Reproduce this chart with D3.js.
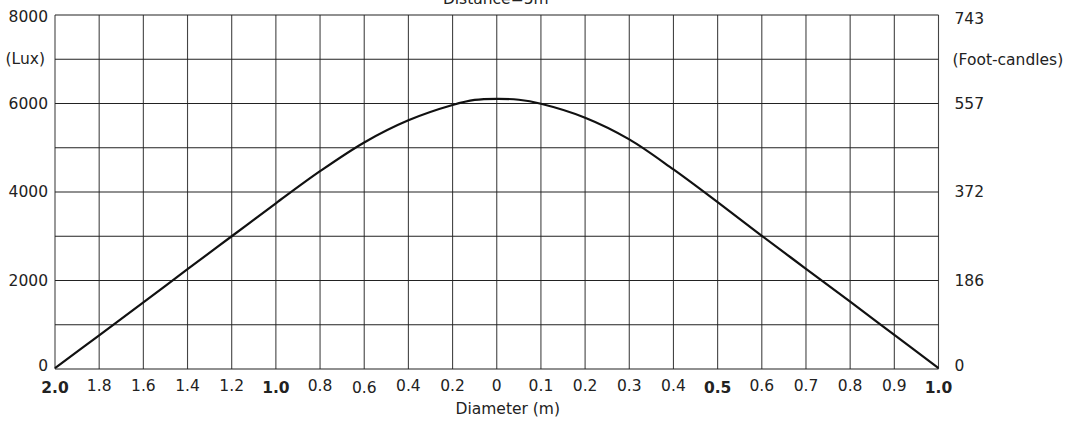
<!DOCTYPE html>
<html>
<head>
<meta charset="utf-8">
<script src="https://cdn.jsdelivr.net/npm/d3@7"></script>
<style>
  html, body { margin: 0; padding: 0; background: #fff; }
  svg { display: block; }
  text { font-family: "DejaVu Sans", Verdana, sans-serif; fill: #222; }
</style>
</head>
<body>
<svg id="chart" width="1068" height="422"></svg>
<script>
// ---- data ----
const xLabels = ["2.0","1.8","1.6","1.4","1.2","1.0","0.8","0.6","0.4","0.2","0","0.1","0.2","0.3","0.4","0.5","0.6","0.7","0.8","0.9","1.0"];
const boldLabels = [0, 5, 15, 20];
const xPositions = [0,1,2,3,4,5,6,7,8,9,9.5,10,10.5,11,12,13,14,15,16,17,18,19,20];
const luxValues  = [20,760,1505,2255,3000,3745,4470,5120,5620,5965,6080,6105,6085,5995,5680,5190,4510,3770,3010,2265,1520,770,20];
const leftTicks  = [0, 2000, 4000, 6000, 8000];
const rightTicks = [0, 2000, 4000, 6000, 8000];
const rightTickLabels = ["0", "186", "372", "557", "743"];
const gridLux = [0,1000,2000,3000,4000,5000,6000,7000,8000];
const title = "Distance=5m";
const xTitle = "Diameter (m)";
const leftUnit = "(Lux)";
const rightUnit = "(Foot-candles)";

// ---- layout ----
const W = 1068, H = 422;
const margin = {left: 55, right: 129.5, top: 15, bottom: 53};
const iw = W - margin.left - margin.right;
const ih = H - margin.top - margin.bottom;

const svg = d3.select("#chart");
const g = svg.append("g").attr("transform", `translate(${margin.left},${margin.top})`);

const x = d3.scaleLinear().domain([0, 20]).range([0, iw]);
const y = d3.scaleLinear().domain([0, 8000]).range([ih, 0]);

// vertical grid
g.append("g").selectAll("line").data(d3.range(0, 21)).join("line")
  .attr("x1", d => x(d)).attr("x2", d => x(d))
  .attr("y1", 0).attr("y2", ih)
  .attr("stroke", "#444").attr("stroke-width", 1.1);

// horizontal grid
g.append("g").selectAll("line").data(gridLux).join("line")
  .attr("x1", 0).attr("x2", iw)
  .attr("y1", d => y(d)).attr("y2", d => y(d))
  .attr("stroke", "#222").attr("stroke-width", 1.1);

// curve
const line = d3.line()
  .x((d, i) => x(xPositions[i]))
  .y(d => y(d))
  .curve(d3.curveCatmullRom.alpha(0.5));
g.append("path").datum(luxValues)
  .attr("d", line)
  .attr("fill", "none")
  .attr("stroke", "#111")
  .attr("stroke-width", 2.2);

const fs = 15.5;

// left axis labels
g.append("g").selectAll("text").data(leftTicks).join("text")
  .attr("x", -7).attr("y", d => y(d) + (d === 0 ? -3 : 0) + (d === 8000 ? 2 : 0))
  .attr("text-anchor", "end").attr("dominant-baseline", "central")
  .style("font-size", fs + "px")
  .text(d => d);
g.append("text").attr("x", -10).attr("y", y(7000))
  .attr("text-anchor", "end").attr("dominant-baseline", "central")
  .style("font-size", fs + "px").text(leftUnit);

// right axis labels
g.append("g").selectAll("text").data(rightTicks).join("text")
  .attr("x", iw + 16).attr("y", d => y(d) + (d === 0 ? -3 : 0) + (d === 8000 ? 4 : 0))
  .attr("text-anchor", "start").attr("dominant-baseline", "central")
  .style("font-size", fs + "px")
  .text((d, i) => rightTickLabels[i]);
g.append("text").attr("x", iw + 14).attr("y", y(7000) + 1)
  .attr("text-anchor", "start").attr("dominant-baseline", "central")
  .style("font-size", fs + "px").text(rightUnit);

// x labels
g.append("g").selectAll("text").data(xLabels).join("text")
  .attr("x", (d, i) => x(i))
  .attr("y", (d, i) => ih + 17 + (boldLabels.includes(i) || i === 7 ? 1.5 : 0))
  .attr("text-anchor", "middle").attr("dominant-baseline", "central")
  .style("font-size", fs + "px")
  .style("font-weight", (d, i) => boldLabels.includes(i) ? "bold" : "normal")
  .text(d => d);

// x title
g.append("text").attr("x", x(10) + 11).attr("y", ih + 40)
  .attr("text-anchor", "middle").attr("dominant-baseline", "central")
  .style("font-size", fs + "px").text(xTitle);

// title (partially clipped at top, as in the reference)
svg.append("text").attr("x", margin.left + x(10) - 1).attr("y", 4)
  .attr("text-anchor", "middle")
  .style("font-size", fs + "px").text(title);
</script>
</body>
</html>
